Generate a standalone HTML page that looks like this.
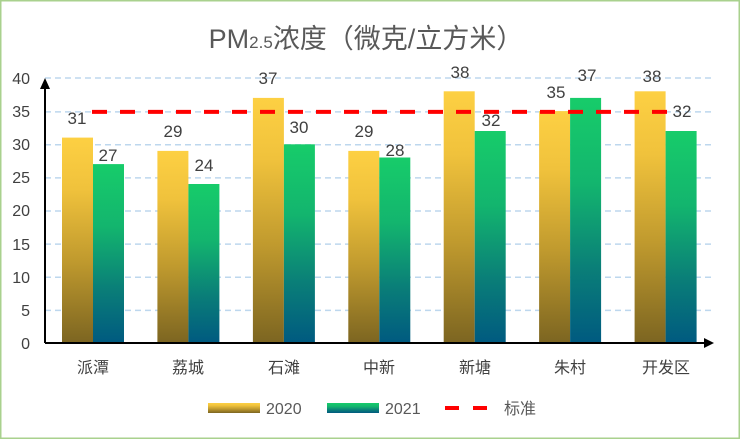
<!DOCTYPE html>
<html><head><meta charset="utf-8"><style>
html,body{margin:0;padding:0;background:#fff}
svg{display:block}
text{font-family:"Liberation Sans","Noto Sans CJK SC",sans-serif;fill:#404040}
</style></head><body>
<svg width="740" height="439" viewBox="0 0 740 439" xmlns="http://www.w3.org/2000/svg">
<defs>
<linearGradient id="g1" x1="0" y1="0" x2="0" y2="1"><stop offset="0" stop-color="#fdd043"/><stop offset="0.25" stop-color="#f0c23c"/><stop offset="0.6" stop-color="#c09a2e"/><stop offset="1" stop-color="#7c6521"/></linearGradient>
<linearGradient id="g2" x1="0" y1="0" x2="0" y2="1"><stop offset="0" stop-color="#17cc6a"/><stop offset="0.35" stop-color="#13b56e"/><stop offset="0.7" stop-color="#0a7e78"/><stop offset="1" stop-color="#005a80"/></linearGradient>
</defs>
<rect x="0.75" y="0.75" width="738.5" height="437.5" fill="#fff" stroke="#a9d18e" stroke-width="1.5"/>
<text x="366" y="48" font-size="27" text-anchor="middle" fill="#595959" style="fill:#595959">PM<tspan font-size="17">2.5</tspan>浓度（微克/立方米）</text>
<g stroke="#bdd7ee" stroke-width="1.5" stroke-dasharray="6,4">
<line x1="45" y1="78" x2="713" y2="78"/><line x1="45" y1="111.9" x2="713" y2="111.9"/>
<line x1="45" y1="144.8" x2="713" y2="144.8"/><line x1="45" y1="177.9" x2="713" y2="177.9"/>
<line x1="45" y1="211" x2="713" y2="211"/><line x1="45" y1="244.1" x2="713" y2="244.1"/>
<line x1="45" y1="277.3" x2="713" y2="277.3"/><line x1="45" y1="310.4" x2="713" y2="310.4"/>
</g>
<g font-size="16" text-anchor="end" style="fill:#595959">
<text x="30" y="84">40</text><text x="30" y="117">35</text><text x="30" y="150">30</text>
<text x="30" y="183">25</text><text x="30" y="216">20</text><text x="30" y="250">15</text>
<text x="30" y="283">10</text><text x="30" y="316">5</text><text x="30" y="349">0</text>
</g>
<g>
<rect x="62" y="137.6" width="31" height="205.4" fill="url(#g1)"/><rect x="93" y="164.1" width="31" height="178.9" fill="url(#g2)"/>
<rect x="157.4" y="150.9" width="31" height="192.1" fill="url(#g1)"/><rect x="188.4" y="184" width="31" height="159" fill="url(#g2)"/>
<rect x="252.9" y="97.9" width="31" height="245.1" fill="url(#g1)"/><rect x="283.9" y="144.3" width="31" height="198.7" fill="url(#g2)"/>
<rect x="348.3" y="150.9" width="31" height="192.1" fill="url(#g1)"/><rect x="379.3" y="157.5" width="31" height="185.5" fill="url(#g2)"/>
<rect x="443.7" y="91.3" width="31" height="251.7" fill="url(#g1)"/><rect x="474.7" y="131" width="31" height="212" fill="url(#g2)"/>
<rect x="539.1" y="111.1" width="31" height="231.9" fill="url(#g1)"/><rect x="570.1" y="97.9" width="31" height="245.1" fill="url(#g2)"/>
<rect x="634.6" y="91.3" width="31" height="251.7" fill="url(#g1)"/><rect x="665.6" y="131" width="31" height="212" fill="url(#g2)"/>
</g>
<line x1="92" y1="111.9" x2="668" y2="111.9" stroke="#ff0000" stroke-width="4" stroke-dasharray="15,13"/>
<line x1="45" y1="343" x2="710" y2="343" stroke="#000" stroke-width="2"/>
<polygon points="714,343 704,338 704,348" fill="#000"/>
<line x1="45" y1="343" x2="45" y2="84" stroke="#000" stroke-width="2"/>
<polygon points="45,78 40,89 50,89" fill="#000"/>
<g font-size="17" text-anchor="middle">
<text x="77" y="124">31</text><text x="108" y="161">27</text>
<text x="173" y="137">29</text><text x="204" y="171">24</text>
<text x="268" y="84">37</text><text x="299" y="133">30</text>
<text x="364" y="137">29</text><text x="395" y="156">28</text>
<text x="460" y="78">38</text><text x="491" y="126">32</text>
<text x="556" y="98">35</text><text x="587" y="81">37</text>
<text x="652" y="82">38</text><text x="682" y="117">32</text>
</g>
<g font-size="16" text-anchor="middle" style="fill:#595959">
<text x="93" y="373">派潭</text><text x="188" y="373">荔城</text><text x="284" y="373">石滩</text>
<text x="379" y="373">中新</text><text x="475" y="373">新塘</text><text x="570" y="373">朱村</text><text x="666" y="373">开发区</text>
</g>
<rect x="208" y="403" width="52" height="10" fill="url(#g1)"/>
<text x="266" y="414" font-size="16" style="fill:#595959">2020</text>
<rect x="327" y="403" width="52" height="10" fill="url(#g2)"/>
<text x="385" y="414" font-size="16" style="fill:#595959">2021</text>
<line x1="445" y1="408" x2="488" y2="408" stroke="#ff0000" stroke-width="4" stroke-dasharray="14,14"/>
<text x="504" y="414" font-size="16" style="fill:#595959">标准</text>
</svg>
</body></html>
